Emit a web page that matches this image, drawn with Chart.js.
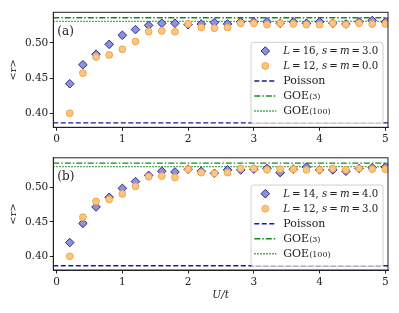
<!DOCTYPE html>
<html>
<head>
<meta charset="utf-8">
<script src="https://cdn.jsdelivr.net/npm/chart.js@4"></script>
<style>
  body { margin: 0; background: #fff; width: 399px; height: 313px; overflow: hidden; }
  .panel { position: absolute; left: 0; width: 399px; }
</style>
</head>
<body>
<div class="panel" style="top:0;height:150px"><canvas id="ca" width="399" height="150"></canvas></div>
<div class="panel" style="top:150px;height:163px"><canvas id="cb" width="399" height="163"></canvas></div>
<script>
// U/t values
const U = [0.2, 0.4, 0.6, 0.8, 1.0, 1.2, 1.4, 1.6, 1.8, 2.0, 2.2, 2.4, 2.6,
           2.8, 3.0, 3.2, 3.4, 3.6, 3.8, 4.0, 4.2, 4.4, 4.6, 4.8, 5.0];

// panel (a)
const rA_L16 = [0.442, 0.469, 0.484, 0.498, 0.511, 0.519, 0.525, 0.528, 0.528, 0.526, 0.527, 0.529, 0.527,
                0.530, 0.530, 0.530, 0.528, 0.530, 0.528, 0.530, 0.528, 0.527, 0.530, 0.532, 0.530];
const rA_L12 = [0.400, 0.457, 0.480, 0.483, 0.491, 0.502, 0.516, 0.517, 0.516, 0.527, 0.522, 0.521, 0.522,
                0.528, 0.528, 0.526, 0.528, 0.527, 0.526, 0.526, 0.528, 0.526, 0.528, 0.527, 0.527];

// panel (b)
const rB_L14 = [0.420, 0.448, 0.472, 0.486, 0.499, 0.509, 0.518, 0.524, 0.523, 0.527, 0.524, 0.521, 0.526,
                0.526, 0.527, 0.528, 0.522, 0.527, 0.530, 0.526, 0.526, 0.524, 0.528, 0.529, 0.530];
const rB_L12 = [0.400, 0.457, 0.480, 0.483, 0.491, 0.502, 0.516, 0.517, 0.515, 0.527, 0.522, 0.521, 0.522,
                0.528, 0.528, 0.526, 0.527, 0.527, 0.526, 0.526, 0.528, 0.526, 0.528, 0.527, 0.527];

const POISSON = 0.3863;
const GOE3 = 0.5359;
const GOE100 = 0.5307;

const X_TICKS = [0, 1, 2, 3, 4, 5];
const Y_TICKS = [0.40, 0.45, 0.50];
const X_MIN = -0.05, X_MAX = 5.04;
const Y_MIN = 0.380, Y_MAX = 0.5436;

const SERIF = "'DejaVu Serif', serif";
const BLUE_FILL = '#8e91d9', BLUE_EDGE = '#2b2b8f';
const ORANGE_FILL = '#fbc685', ORANGE_EDGE = '#f2a444';
const NAVY = '#1b1b94', GREEN = '#14891a';

function pts(vals) { return U.map((u, i) => ({ x: u, y: vals[i] })); }
function hline(v) { return [{ x: X_MIN, y: v }, { x: X_MAX, y: v }]; }

// draws a line of text made of [text, font, dy] pieces, squeezed to maxW if needed
function richText(ctx, x, y, parts, maxW) {
  let total = 0;
  for (const [t, f] of parts) { ctx.font = f; total += ctx.measureText(t).width; }
  const sx = maxW && total > maxW ? maxW / total : 1;
  ctx.save();
  ctx.translate(x, y);
  ctx.scale(sx, 1);
  let cx = 0;
  for (const [t, f, dy] of parts) {
    ctx.font = f;
    ctx.fillText(t, cx, dy || 0);
    cx += ctx.measureText(t).width;
  }
  ctx.restore();
}

const frame = {
  id: 'frame',
  afterDatasetsDraw(chart, args, opts) {
    const { ctx, chartArea: a } = chart;
    ctx.save();
    ctx.strokeStyle = '#222';
    ctx.lineWidth = 1;
    ctx.strokeRect(a.left, a.top, a.right - a.left, a.bottom - a.top);

    ctx.fillStyle = '#222';
    ctx.textBaseline = 'middle';
    ctx.font = '12px ' + SERIF;
    ctx.fillText(opts.tag, a.left + 4, a.top + 19.5);

    // legend box
    const w = 132, h = 81;
    const bx = a.right - 5 - w, by = a.bottom - 4 - h;
    ctx.fillStyle = 'rgba(255,255,255,0.8)';
    ctx.strokeStyle = '#d0d0d0';
    ctx.beginPath();
    ctx.roundRect(bx, by, w, h, 2.5);
    ctx.fill();
    ctx.stroke();

    const ds = chart.data.datasets;
    const it = '11px ' + SERIF, itI = 'italic 11px ' + SERIF, sm = '8px ' + SERIF;
    opts.items.forEach((item, i) => {
      const d = ds[i];
      const ry = by + 8.7 + i * 15;
      const mx = bx + 14.3;
      if (d.showLine) {
        ctx.save();
        ctx.strokeStyle = d.borderColor;
        ctx.lineWidth = d.borderWidth;
        ctx.setLineDash(d.borderDash || []);
        ctx.beginPath();
        ctx.moveTo(bx + 3.3, ry);
        ctx.lineTo(bx + 25.3, ry);
        ctx.stroke();
        ctx.restore();
      } else {
        ctx.save();
        ctx.fillStyle = d.backgroundColor;
        ctx.strokeStyle = d.borderColor;
        ctx.lineWidth = d.borderWidth;
        Chart.helpers.drawPoint(ctx, { pointStyle: d.pointStyle, radius: d.pointRadius, borderWidth: d.borderWidth }, mx, ry);
        ctx.restore();
      }
      ctx.fillStyle = '#222';
      ctx.textBaseline = 'middle';
      const parts = item.map(p => [p[0], p[1] === 'i' ? itI : p[1] === 's' ? sm : it, p[1] === 's' ? 1 : 0]);
      richText(ctx, bx + 32.3, ry, parts, 95);
    });
    ctx.restore();
  }
};

function legendItems(a, b) {
  const eq = '\u2009=\u2009';
  return [
    [['L', 'i'], [eq + a[0] + ', ', 'n'], ['s', 'i'], [eq, 'n'], ['m', 'i'], [eq + a[1], 'n']],
    [['L', 'i'], [eq + b[0] + ', ', 'n'], ['s', 'i'], [eq, 'n'], ['m', 'i'], [eq + b[1], 'n']],
    [['Poisson', 'n']],
    [['GOE', 'n'], ['(3)', 's']],
    [['GOE', 'n'], ['(100)', 's']]
  ];
}

function makePanel(id, padTop, xHeight, showTitle, big, small, tag, items) {
  new Chart(document.getElementById(id), {
    type: 'scatter',
    data: {
      datasets: [
        { data: pts(big), pointStyle: 'rectRot', pointRadius: 4.3, backgroundColor: BLUE_FILL,
          borderColor: BLUE_EDGE, borderWidth: 1, showLine: false, order: 2 },
        { data: pts(small), pointStyle: 'circle', pointRadius: 3.4, backgroundColor: ORANGE_FILL,
          borderColor: ORANGE_EDGE, borderWidth: 1, showLine: false, order: 1 },
        { data: hline(POISSON), showLine: true, pointRadius: 0, borderColor: NAVY, borderWidth: 1.4,
          borderDash: [5, 2.5], order: 5 },
        { data: hline(GOE3), showLine: true, pointRadius: 0, borderColor: GREEN, borderWidth: 1.4,
          borderDash: [6, 2, 1.5, 2], order: 5 },
        { data: hline(GOE100), showLine: true, pointRadius: 0, borderColor: GREEN, borderWidth: 1.4,
          borderDash: [1.4, 1.6], order: 5 }
      ]
    },
    options: {
      responsive: false,
      animation: false,
      layout: { padding: { top: padTop, right: 11, left: 0, bottom: 0 } },
      plugins: {
        legend: { display: false },
        tooltip: { enabled: false },
        frame: { tag: tag, items: items }
      },
      scales: {
        x: {
          type: 'linear', min: X_MIN, max: X_MAX,
          afterBuildTicks: s => { s.ticks = X_TICKS.map(v => ({ value: v })); },
          afterFit: s => { s.height = xHeight; },
          grid: { drawOnChartArea: false, drawTicks: true, tickLength: 3.5, color: '#222' },
          border: { color: '#222' },
          ticks: { color: '#222', padding: 2, font: { family: SERIF, size: 10.5 }, maxRotation: 0 },
          title: { display: showTitle, text: 'U/t', color: '#222',
                   font: { family: SERIF, size: 10.5, style: 'italic' }, padding: { top: 0, bottom: 11 } }
        },
        y: {
          type: 'linear', min: Y_MIN, max: Y_MAX,
          afterBuildTicks: s => { s.ticks = Y_TICKS.map(v => ({ value: v })); },
          afterFit: s => { s.width = 53.3; },
          grid: { drawOnChartArea: false, drawTicks: true, tickLength: 3.5, color: '#222' },
          border: { color: '#222' },
          ticks: { color: '#222', padding: 1.5, font: { family: SERIF, size: 10.5 },
                   callback: v => v.toFixed(2) },
          title: { display: true, text: '<r>', color: '#222',
                   font: { family: SERIF, size: 10 }, padding: { top: 7.5, bottom: 0 } }
        }
      }
    },
    plugins: [frame]
  });
}

makePanel('ca', 12.3, 22.7, false, rA_L16, rA_L12, '(a)', legendItems(['16', '3.0'], ['12', '0.0']));
makePanel('cb', 5.7, 43, true, rB_L14, rB_L12, '(b)', legendItems(['14', '4.0'], ['12', '3.0']));
</script>
</body>
</html>
